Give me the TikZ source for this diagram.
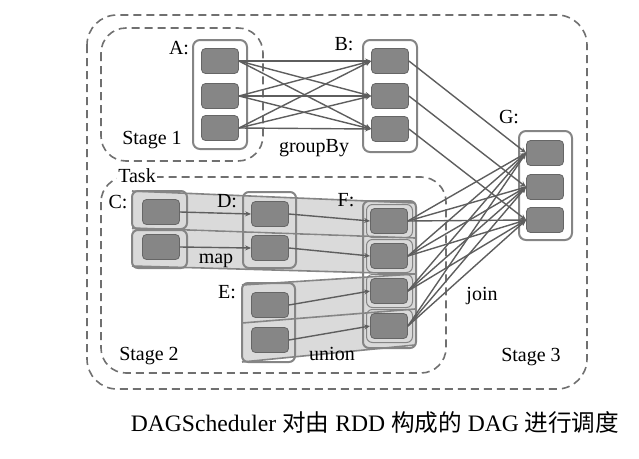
\documentclass[tikz,border=0pt]{standalone}
\usepackage{fontspec}
\setmainfont{Liberation Serif}
\newfontfamily\cjk{Noto Sans CJK SC}
\usetikzlibrary{arrows.meta}
\definecolor{dash}{HTML}{707070}
\definecolor{contline}{HTML}{858585}
\definecolor{blkfill}{HTML}{868686}
\definecolor{blkline}{HTML}{666666}
\definecolor{arrcol}{HTML}{5E5E5E}
\definecolor{bandfill}{HTML}{DADADA}
\tikzset{
  blk/.style={rectangle, rounded corners=4pt, minimum width=37pt, minimum height=25pt, inner sep=0pt, fill=blkfill, draw=blkline, line width=0.8pt},
  cont/.style={rectangle, rounded corners=7pt, draw=contline, line width=2pt, fill=white, inner sep=0pt},
  tcont/.style={rectangle, rounded corners=6pt, draw=contline, line width=2pt, inner sep=0pt},
  arr/.style={draw=arrcol, line width=1.4pt, -{Stealth[length=6pt,width=5pt]}},
  stagebox/.style={draw=dash, line width=1.6pt, dash pattern=on 8pt off 5pt},
  band/.style={draw=contline, line width=1.6pt, line join=round},
  lbl/.style={font=\fontsize{20}{24}\selectfont, inner sep=1pt},
}
\begin{document}
\begin{tikzpicture}[x=1pt,y=-1pt]
\useasboundingbox (0,0) rectangle (639,458);
% stage boxes
\draw[stagebox, rounded corners=30pt] (87,15) rectangle (587,389);
\draw[stagebox, rounded corners=25pt] (101,28) rectangle (263,161);
\draw[stagebox, rounded corners=25pt] (101,177) rectangle (446,373);
% task bands
\fill[bandfill] (132,191) -- (415,203) -- (415,238) -- (132,228) -- cycle;
\fill[bandfill] (132,229) -- (415,239) -- (415,274) -- (132,266) -- cycle;
\fill[bandfill] (242,285) -- (415,274) -- (415,309) -- (242,323) -- cycle;
\fill[bandfill] (242,323) -- (415,309) -- (415,345) -- (242,362) -- cycle;
% containers
\node[cont, minimum width=54pt, minimum height=109pt] (Ac) at (220,94.5) {};
\node[cont, minimum width=54pt, minimum height=112pt] (Bc) at (390,96) {};
\node[cont, minimum width=53pt, minimum height=109pt] (Gc) at (545.5,185.5) {};
\node[tcont, fill=bandfill, minimum width=55pt, minimum height=38pt] (Cc1) at (159.5,210) {};
\node[tcont, fill=bandfill, minimum width=55pt, minimum height=38pt] (Cc2) at (159.5,249) {};
\node[tcont, minimum width=53pt, minimum height=76pt] (Dc) at (269.5,230) {};
\node[tcont, minimum width=53pt, minimum height=79pt] (Ec) at (268.5,322.5) {};
\node[tcont, minimum width=53pt, minimum height=147pt] (Fc) at (389.5,274.5) {};
\foreach \y/\n in {221/1,256/2,291/3,326/4}
  \node[tcont, line width=1pt, minimum width=46pt, minimum height=33pt] (Fh\n) at (389.5,\y) {};
% band outlines
\draw[band] (132,191) -- (415,203);
\draw[band] (132,228) -- (415,238);
\draw[band] (132,266) -- (415,274);
\draw[band] (242,285) -- (415,274);
\draw[band] (242,323) -- (415,309);
\draw[band] (242,362) -- (415,345);
% blocks
\node[blk] (A1) at (220,61) {};
\node[blk] (A2) at (220,96) {};
\node[blk] (A3) at (220,128) {};
\node[blk] (B1) at (390,61) {};
\node[blk] (B2) at (390,96) {};
\node[blk] (B3) at (390,129) {};
\node[blk] (G1) at (545,153) {};
\node[blk] (G2) at (545,187) {};
\node[blk] (G3) at (545,220) {};
\node[blk] (C1) at (161,212) {};
\node[blk] (C2) at (161,247) {};
\node[blk] (D1) at (270,214) {};
\node[blk] (D2) at (270,248) {};
\node[blk] (E1) at (270,305) {};
\node[blk] (E2) at (270,340) {};
\node[blk] (F1) at (389,221) {};
\node[blk] (F2) at (389,256) {};
\node[blk] (F3) at (389,291) {};
\node[blk] (F4) at (389,326) {};
% arrows
\foreach \i in {1,2,3}{\foreach \j in {1,2,3}{\draw[arr] (A\i.east) -- (B\j.west);}}
\foreach \i in {1,2,3}{\draw[arr] (B\i.east) -- (G\i.west);}
\draw[arr] (C1.east) -- (D1.west);
\draw[arr] (C2.east) -- (D2.west);
\draw[arr] (D1.east) -- (F1.west);
\draw[arr] (D2.east) -- (F2.west);
\draw[arr] (E1.east) -- (F3.west);
\draw[arr] (E2.east) -- (F4.west);
\foreach \i in {1,2,3,4}{\foreach \j in {1,2,3}{\draw[arr] (F\i.east) -- (G\j.west);}}
% labels
\node[lbl] (lA) at (179,48) {A:};
\node[lbl] (lB) at (344,44) {B:};
\node[lbl] (lG) at (509,117) {G:};
\node[lbl] (lC) at (118,202) {C:};
\node[lbl] (lD) at (227,201) {D:};
\node[lbl] (lE) at (227,292) {E:};
\node[lbl] (lF) at (346,200) {F:};
\node[lbl] (s1) at (152,140) {Stage 1};
\node[lbl] (s2) at (149,356) {Stage 2};
\node[lbl] (s3) at (531,357) {Stage 3};
\node[lbl] (gb) at (314,148) {groupBy};
\node[lbl] (jn) at (482,296) {join};
\node[lbl] (mp) at (216,261) {map};
\node[lbl] (un) at (332,354) {union};
\node[lbl, fill=white, inner sep=1pt] (tk) at (137,176) {Task};
% caption
\node[font=\fontsize{23.6}{28}\selectfont, inner sep=0pt] (cap) at (375,423) {DAGScheduler {\cjk 对由} RDD {\cjk 构成的} DAG {\cjk 进行调度}};
\end{tikzpicture}
\end{document}
